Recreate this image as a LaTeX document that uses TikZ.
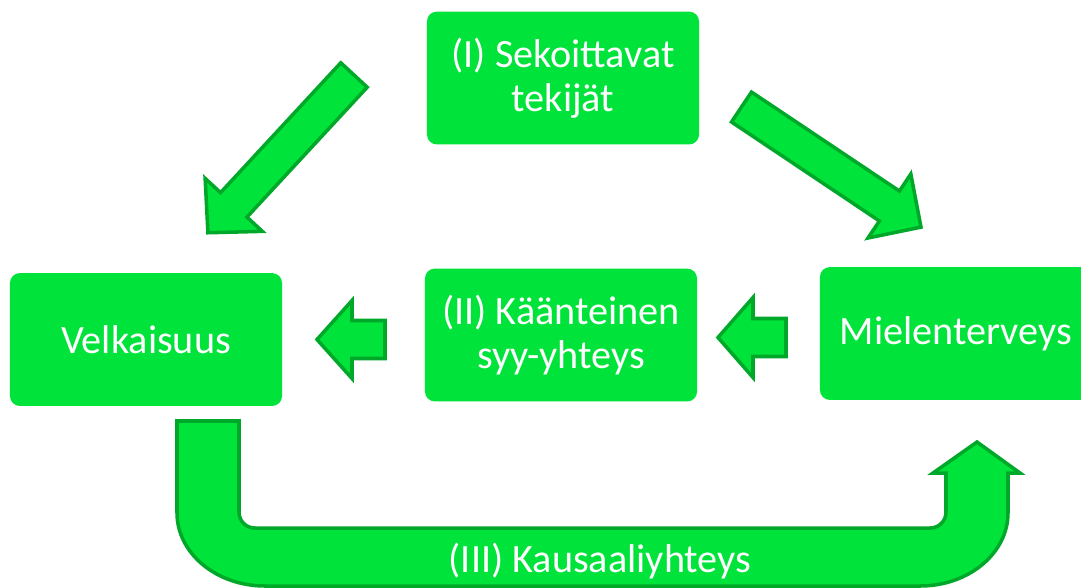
\documentclass[tikz,border=0pt]{standalone}
\usepackage{fontspec}
\setmainfont{Carlito}
\definecolor{boxgreen}{RGB}{0,227,58}
\definecolor{edgegreen}{RGB}{0,168,42}
\newcommand\boxfont{\fontsize{28.6pt}{31.5pt}\selectfont}

\begin{document}
\begin{tikzpicture}[x=0.025cm, y=-0.025cm,
  box/.style={fill=boxgreen, text=white, rounded corners=7pt, minimum width=6.8cm,
    minimum height=3.32cm, align=center, inner sep=0pt, font=\boxfont},
  arrowline/.style={draw=edgegreen, fill=boxgreen, line width=2.5pt, line join=miter},
  pics/fatarrow/.style args={#1/#2/#3/#4}{code={
    \draw[arrowline] (0,-#2) -- ({#1-#4},-#2) -- ({#1-#4},-#3) -- (#1,0)
      -- ({#1-#4},#3) -- ({#1-#4},#2) -- (0,#2) -- cycle;
  }}]
\useasboundingbox (0,0) rectangle (1081,587);

% laatikot
\node[box] (sekoit) at (563,78) {(I) Sekoittavat\\tekijät};
\node[box] (velka) at (146,339.5) {Velkaisuus};
\node[box] (kaant) at (561,335) {(II) Käänteinen\\syy-yhteys};
\node[box] (mielen) at (956,333.5) {Mielenterveys};

% nuolet
\coordinate (vasenHanta) at (354,75);
\coordinate (oikeaHanta) at (741.5,107);
\coordinate (keskiHanta) at (385,339.5);
\coordinate (oikeaPieni) at (786,337.5);
\pic[rotate=227.2] at (vasenHanta) {fatarrow=215/18/39/38};
\pic[rotate=-33.8] at (oikeaHanta) {fatarrow=216/18/38.5/38};
\pic[rotate=180] at (keskiHanta) {fatarrow=68/19/39/35};
\pic[rotate=180] at (oikeaPieni) {fatarrow=68/19/40/35};

% U-nuoli
\draw[arrowline] (177,421) -- (177,513) .. controls (177,553) and (216,586) .. (265,586)
  -- (920,586) .. controls (969,586) and (1008,553) .. (1008,513) -- (1008,473)
  -- (1020,473) -- (977,442) -- (933,473) -- (946,473) -- (946,512)
  .. controls (946,521) and (939,528) .. (930,528) -- (255,528)
  .. controls (246,528) and (239,521) .. (239,512) -- (239,421) -- cycle;
\node[font=\boxfont, text=white, anchor=base, inner sep=0pt] (kausal) at (600,572) {(III) Kausaaliyhteys};

\end{tikzpicture}
\end{document}
